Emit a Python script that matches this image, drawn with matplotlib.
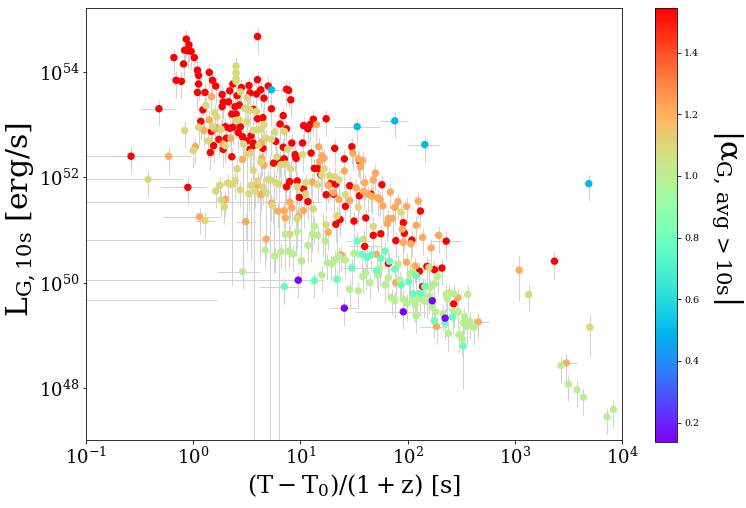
import numpy as np
import matplotlib
matplotlib.use("Agg")
import matplotlib.pyplot as plt

# values are log10(T) and log10(L), one pair per point
red_t = [-0.065,-0.04,-0.08,-0.05,-0.02,-0.18,0.01,-0.09,0.60,0.04,0.05,0.15,-0.16,-0.11,0.18,0.05,0.21,0.37,0.60,0.52,
         0.45,0.70,0.63,0.59,0.87,0.89,0.34,0.11,0.04,0.27,0.53,0.41,0.66,0.91,0.28,0.33,0.27,0.39,0.43,0.73,
         0.09,0.56,0.36,0.40,0.84,0.60,0.65,0.07,0.81,0.87,0.30,0.34,0.37,0.44,0.17,0.42,0.54,0.46,0.50,0.24,
         0.31,0.19,0.28,0.16,0.36,-0.58,-0.32,-0.05,0.56,0.57,0.53,0.65,0.77,0.92,0.84,0.95,0.96,0.85,0.81,0.75,
         0.90,0.97,0.87,0.99,
         1.12,1.24,1.03,1.07,1.09,1.02,1.32,1.48,1.10,1.41,1.55,1.13,1.16,1.19,1.28,1.33,1.46,1.76,1.03,1.24,
         1.31,1.55,1.66,1.07,1.42,1.61,1.37,1.50,1.33,1.96,1.97,1.68,1.75,1.89,2.04,2.36,1.60,2.12,1.82,2.11,
         2.18,2.25,2.32,2.14,2.43,3.37]
red_l = [54.62,54.51,54.41,54.40,54.39,54.27,54.27,54.15,54.67,54.03,53.93,53.99,53.84,53.82,53.84,53.77,53.73,53.77,53.85,53.74,
         53.70,53.73,53.66,53.58,53.67,53.65,53.64,53.61,53.61,53.57,53.60,53.55,53.50,53.47,53.43,53.43,53.34,53.34,53.37,53.30,
         53.28,53.29,53.20,53.20,53.17,53.11,53.13,53.06,53.01,52.92,52.96,52.93,52.95,52.96,52.87,52.85,52.79,52.77,52.69,52.72,
         52.74,52.60,52.53,52.47,52.39,52.40,53.30,51.81,52.65,52.61,52.53,52.55,52.68,52.65,52.57,52.43,52.36,52.35,52.33,52.27,
         51.92,51.93,51.82,51.62,
         53.10,53.11,52.98,52.92,53.00,52.65,52.55,52.58,52.46,52.35,52.31,52.17,52.17,52.05,51.88,51.87,51.84,51.86,51.78,51.67,
         51.68,51.65,51.68,51.54,51.45,51.23,51.20,51.17,51.11,51.14,50.94,50.90,50.93,50.80,50.81,50.79,50.69,51.36,50.37,50.22,
         50.31,50.25,50.28,49.93,49.60,50.41]

orange_t = [0.17,0.15,0.10,0.20,0.22,0.28,0.02,-0.23,0.35,0.64,0.64,0.66,0.46,0.60,0.30,0.63,0.79,0.85,0.90,0.92,
            0.86,0.06,0.49,0.98,0.73,0.68,
            1.15,1.17,1.49,1.20,1.22,1.18,1.54,1.58,1.56,1.41,1.70,1.68,1.60,1.11,1.26,1.52,1.59,1.84,1.63,1.67,
            1.72,1.74,1.31,1.36,1.46,1.77,1.91,2.10,1.88,1.99,1.03,1.82,1.86,1.81,2.08,1.95,1.26,2.14,2.29,1.96,
            2.03,2.22,1.38,1.71,1.99,2.07,1.89,2.47,2.27,2.66,3.04,3.48]
orange_l = [53.53,53.09,52.89,52.92,52.94,52.63,52.58,52.40,52.74,52.66,52.36,52.23,52.34,51.86,51.58,51.67,51.36,51.37,51.53,51.42,
            51.23,51.25,51.16,51.26,51.51,50.83,
            53.00,52.58,52.46,52.41,52.36,52.30,52.35,52.32,52.20,52.12,52.08,51.95,51.90,51.91,51.85,51.80,51.73,51.72,51.68,51.64,
            51.61,51.58,51.71,51.58,51.56,51.46,51.54,51.55,51.43,51.45,51.37,51.22,51.22,51.12,51.09,51.02,50.96,50.86,50.90,50.77,
            50.74,50.66,50.53,50.54,50.39,50.32,50.00,49.72,49.17,49.26,50.24,48.48]

khaki_t = [0.40,0.40,0.40,0.40,0.44,0.50,0.12,0.20,0.22,-0.08,0.05,0.18,0.26,0.14,0.30,0.00,-0.42,0.40,0.43,0.48,
           0.51,0.53,0.59,0.50,0.66,0.56,0.60,0.63,0.85,0.76,0.68,0.73,0.47,0.61,0.88,0.50,0.54,0.78,0.63,0.56,
           0.41,0.91,0.82,0.86,0.25,0.32,0.36,0.39,0.21,0.44,0.52,0.54,0.60,0.58,0.65,0.68,0.70,0.72,0.77,0.80,
           0.97,0.26,0.29,0.74,0.11,0.97,0.90,
           1.02,1.22,1.20,1.27,1.32,1.36,1.05,1.16,1.42,1.05,1.12,1.54,1.94,1.34,1.68,1.24,1.59,3.13,3.70,2.20]
khaki_l = [54.11,53.98,53.87,53.82,53.62,53.51,53.36,53.22,53.15,52.89,52.95,52.96,52.91,52.69,52.60,52.51,51.96,53.08,53.09,53.31,
           53.28,53.28,53.25,53.06,53.00,52.89,52.90,52.91,52.87,52.86,52.74,52.72,52.63,52.60,52.53,52.43,52.47,52.39,52.29,52.13,
           52.16,52.16,52.24,52.25,51.85,51.89,51.86,51.94,51.74,51.76,51.69,51.85,51.93,51.74,51.81,51.70,51.96,51.95,51.90,51.87,
           51.82,51.57,51.44,51.46,51.18,51.22,50.92,
           52.43,52.16,52.05,52.03,52.01,51.95,51.90,51.86,51.67,51.69,51.40,51.43,51.34,51.27,51.07,51.10,50.83,49.78,49.16,50.29]

green_t = [0.86,0.97,0.67,0.82,0.89,0.93,0.76,0.46,1.01,
           1.13,1.11,1.16,1.07,1.23,1.01,1.50,1.42,1.25,1.29,1.32,1.36,1.91,1.61,1.58,1.72,1.74,1.82,1.20,1.65,
           1.46,1.54,1.79,1.93,2.02,2.05,2.25,2.21,2.28,1.85,1.88,1.96,1.99,2.07,2.05,2.09,2.12,2.15,2.18,2.20,
           2.36,2.39,2.43,2.37,2.56,2.23,2.26,2.33,2.08,2.43,2.47,2.53,2.52,2.58,2.62,2.55,2.38,2.48,2.51,3.43,
           3.50,3.58,3.64,3.86,3.92]
green_l = [50.92,50.97,50.62,50.59,50.60,50.55,50.51,50.21,50.41,
           51.07,50.92,50.90,50.71,50.79,50.42,50.56,50.43,50.38,50.36,50.43,50.50,50.36,50.19,50.12,50.15,50.28,50.10,50.15,50.00,
           49.88,49.85,49.96,50.05,50.17,50.20,49.98,49.91,50.12,49.72,49.66,49.69,49.61,49.59,49.67,49.69,49.70,49.67,49.65,49.74,
           49.79,49.81,49.79,49.70,49.78,49.55,49.45,49.41,49.38,49.47,49.45,49.36,49.24,49.27,49.16,49.17,49.04,49.02,48.93,48.43,
           48.08,47.97,47.83,47.46,47.60]

aqua_t = [0.85,1.53,1.57,1.62,1.66,1.79,1.75,1.83,1.48,1.71,1.88,1.34,1.13,2.01,1.94,2.08,2.16,2.05,2.12,2.25,2.35,2.42,2.52]
aqua_l = [49.93,50.79,50.54,50.48,50.53,50.60,50.46,50.41,50.28,50.23,50.26,50.07,50.04,50.02,49.96,50.14,49.93,49.79,49.80,49.28,49.24,49.35,48.80]

cyan_t = [0.73,1.53,1.88,2.16,3.69]
cyan_l = [53.66,52.96,53.07,52.62,51.88]

purple_t = [0.98,1.41,1.96,2.23,2.35]
purple_l = [50.05,49.52,49.45,49.66,49.33]

# |alpha| of each colour group
alpha_red = 1.54
alpha_orange = 1.22
alpha_khaki = 1.09
alpha_green = 1.00
alpha_aqua = 0.78
alpha_cyan = 0.50
alpha_purple = 0.14

# usual vertical error, in dex above and below the point
err_up = 0.17
err_down = 0.33

# wide x errors: log L, log T from, log T to
wide_l = [52.40,52.40,53.30,51.96,51.81,51.53,51.25,51.18,51.16,50.81,50.05,49.67,50.21,49.93,49.52,49.45,52.96,53.07,52.62,49.17,49.26,48.48,50.79,53.66,50.79,50.69,50.28]
wide_a = [-1.2,-0.50,-0.49,-1.2,-0.30,-1.2,-0.28,0.02,0.39,-1.2,-1.2,-1.2,0.22,0.61,1.28,1.51,1.31,1.74,1.99,2.11,2.52,3.39,2.20,0.70,1.42,1.45,1.39]
wide_b = [-0.28,-0.03,-0.18,-0.10,0.12,1.20,0.25,0.19,0.59,1.02,1.22,0.22,0.62,1.01,1.53,2.17,1.74,2.00,2.29,2.37,2.76,3.58,2.51,0.88,1.65,1.75,1.72]

# tall y errors: log T, log L from, log L to
tall_t = [0.57,0.72,0.80,0.36,0.46,0.62,0.68,0.75,0.89,0.96,1.01,0.50,0.54,0.86,2.52,1.10,1.21,1.34,1.50,3.70,3.04]
tall_a = [46.0,46.0,46.0,49.96,49.90,50.40,50.45,50.18,50.28,50.50,50.15,50.60,50.45,50.25,47.99,50.40,50.50,50.55,50.20,48.60,49.65]
tall_b = [52.60,52.40,52.30,52.20,52.00,52.10,52.00,52.20,52.30,52.10,51.70,52.30,52.00,52.10,49.00,51.90,51.30,51.10,51.00,49.40,50.50]

groups = [(red_t, red_l, alpha_red), (orange_t, orange_l, alpha_orange), (khaki_t, khaki_l, alpha_khaki),
          (green_t, green_l, alpha_green), (aqua_t, aqua_l, alpha_aqua), (cyan_t, cyan_l, alpha_cyan),
          (purple_t, purple_l, alpha_purple)]

plt.rcParams['font.family'] = 'DejaVu Serif'
plt.rcParams['mathtext.fontset'] = 'dejavuserif'

fig = plt.figure(figsize=(746/72, 508/72), dpi=72)
ax = fig.add_axes([86/746, 1-440/508, 536/746, 432/508])
cax = fig.add_axes([655/746, 1-442/508, 22/746, 434/508])

grey = '#d2d2d2'
ax.hlines(10.0**np.array(wide_l), 10.0**np.array(wide_a), 10.0**np.array(wide_b), color=grey, lw=1, zorder=1)
ax.vlines(10.0**np.array(tall_t), 10.0**np.array(tall_a), 10.0**np.array(tall_b), color=grey, lw=1, zorder=1)

for t, l, a in groups:
    t = np.array(t)
    l = np.array(l)
    ax.vlines(10.0**t, 10.0**(l-err_down), 10.0**(l+err_up), color=grey, lw=1, zorder=1)

sc = None
for t, l, a in groups:
    sc = ax.scatter(10.0**np.array(t), 10.0**np.array(l), c=[a]*len(t), s=56, cmap='rainbow',
                    vmin=0.137, vmax=1.545, zorder=2, linewidths=0)

ax.set_xscale('log')
ax.set_yscale('log')
ax.set_xlim(1e-1, 1e4)
ax.set_ylim(10.0**47.02, 10.0**55.21)
ax.set_yticks([1e48, 1e50, 1e52, 1e54])
ax.minorticks_off()
ax.tick_params(labelsize=18)
ax.set_xlabel(r'$\mathrm{(T-T_0)/(1+z)}$ [s]', fontsize=24, labelpad=4)
ax.set_ylabel(r'$\mathrm{L_{G,10s}}$ [erg/s]', fontsize=30, labelpad=1, y=0.51)

cb = fig.colorbar(sc, cax=cax)
cb.set_ticks([0.2, 0.4, 0.6, 0.8, 1.0, 1.2, 1.4])
cb.ax.tick_params(labelsize=9.5)
cb.set_label(r'$\mathrm{|\alpha_{G,\/avg\/>10s}|}$', fontsize=30, rotation=270, labelpad=45, y=0.52)

fig.savefig('out.png', dpi=72)
